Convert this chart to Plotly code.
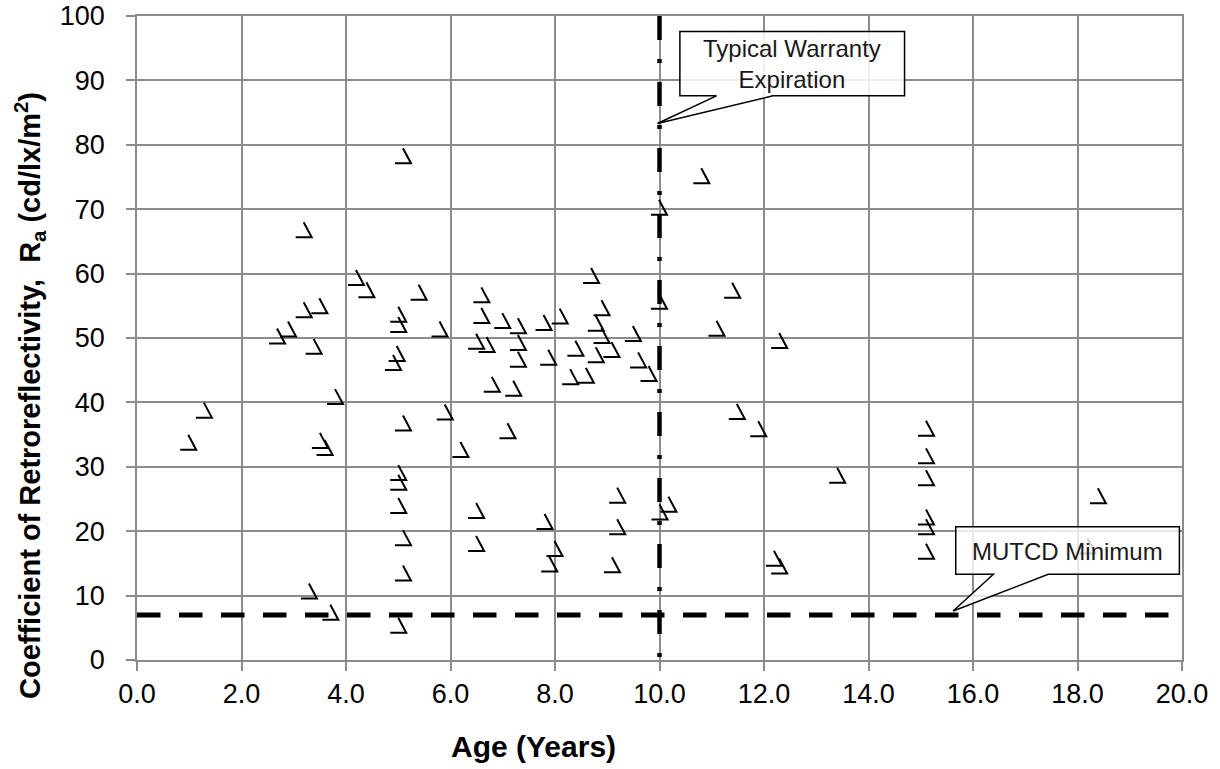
import plotly.graph_objects as go

# ---------------- data ----------------
age_years = [
    0.98, 1.28, 2.68, 2.89, 3.19, 3.19, 3.49, 3.38, 3.29, 3.50, 3.59, 3.70, 3.79,
    4.19, 4.39, 4.90, 4.97, 5.00, 5.00, 5.09, 5.09, 5.00, 5.00, 5.00, 5.09, 5.09,
    5.00, 5.39, 5.79, 5.89, 6.19, 6.49, 6.59, 6.59, 6.69, 6.79, 6.99, 7.09, 7.20,
    7.29, 7.29, 7.29, 7.78, 7.87, 8.09, 8.29, 8.39, 8.59, 8.69, 8.78, 8.89, 8.89,
    8.78, 9.08, 9.49, 9.59, 9.79, 9.99, 9.99, 10.80, 6.49, 6.49, 7.80, 7.99, 7.89,
    9.19, 9.19, 9.09, 10.00, 10.17, 11.39, 11.09, 12.29, 11.48, 11.89, 13.40,
    12.29, 12.19, 15.10, 15.10, 15.10, 15.10, 15.10, 15.10, 18.39, 18.19,
]
ra_values = [
    33.8, 38.8, 50.3, 51.4, 66.8, 54.4, 55.0, 48.7, 10.7, 34.1, 33.0, 7.4, 40.9,
    59.4, 57.5, 46.2, 47.6, 53.7, 52.1, 78.3, 36.8, 29.1, 27.6, 24.0, 19.0, 13.5,
    5.4, 57.1, 51.4, 38.5, 32.7, 49.5, 56.7, 53.5, 49.0, 42.8, 52.7, 35.6, 42.2,
    51.9, 49.3, 46.7, 52.4, 47.0, 53.4, 44.0, 48.4, 44.2, 59.7, 52.3, 54.7, 50.4,
    47.4, 48.2, 50.7, 46.6, 44.5, 55.7, 70.3, 75.2, 23.2, 18.1, 21.5, 17.3, 14.9,
    25.6, 20.7, 14.8, 23.0, 24.2, 57.4, 51.5, 49.6, 38.6, 35.9, 28.7,
    14.6, 15.8, 36.0, 31.7, 28.3, 22.2, 20.7, 16.9, 25.5, 17.7,
]

x_tick_values = [0, 2, 4, 6, 8, 10, 12, 14, 16, 18, 20]
x_tick_labels = ["0.0", "2.0", "4.0", "6.0", "8.0", "10.0", "12.0", "14.0", "16.0", "18.0", "20.0"]
y_tick_values = [0, 10, 20, 30, 40, 50, 60, 70, 80, 90, 100]

mutcd_minimum = 7
warranty_years = 10

# ---------------- layout geometry ----------------
W, H = 1220, 769
ML, MR, MT, MB = 137, 38, 16, 109
X_RANGE = [0, 20]
Y_RANGE = [0, 100]
plot_w = W - ML - MR
plot_h = H - MT - MB
px_per_x = plot_w / (X_RANGE[1] - X_RANGE[0])
px_per_y = plot_h / (Y_RANGE[1] - Y_RANGE[0])

# custom marker glyph: diagonal stroke down-right, then horizontal stroke left (pixel offsets, y down)
glyph_px = [(0, -7.5), (8, 7.5), (-8, 7.5)]
gx, gy = [], []
for a, r in zip(age_years, ra_values):
    for dx, dy in glyph_px:
        gx.append(a + dx / px_per_x)
        gy.append(r - dy / px_per_y)
    gx.append(None)
    gy.append(None)

fig = go.Figure()

fig.add_trace(go.Scatter(
    x=[X_RANGE[0], X_RANGE[1]], y=[mutcd_minimum, mutcd_minimum], mode="lines",
    line=dict(color="black", width=5, dash="23.5px,18.5px"),
    hoverinfo="skip", showlegend=False,
))
fig.add_trace(go.Scatter(
    x=[warranty_years, warranty_years], y=[Y_RANGE[1], Y_RANGE[0]], mode="lines",
    line=dict(color="black", width=4.5, dash="24px,19px,4px,19px"),
    hoverinfo="skip", showlegend=False,
))
fig.add_trace(go.Scatter(
    x=gx, y=gy, mode="lines", connectgaps=False,
    line=dict(color="black", width=2),
    hoverinfo="skip", showlegend=False,
))

grid = "#8c8c8c"
fig.update_layout(
    width=W, height=H,
    margin=dict(l=ML, r=MR, t=MT, b=MB, autoexpand=False),
    paper_bgcolor="white", plot_bgcolor="white",
    font=dict(family="Liberation Sans, Arial, sans-serif", color="black"),
    showlegend=False,
    xaxis=dict(
        range=X_RANGE, tickmode="array", tickvals=x_tick_values, ticktext=x_tick_labels,
        showgrid=True, gridcolor=grid, gridwidth=1.5, zeroline=False,
        showline=True, linecolor=grid, linewidth=1.5, mirror=True,
        ticks="outside", ticklen=9, tickwidth=1.5, tickcolor=grid,
        tickfont=dict(size=27, color="black"), ticklabelstandoff=0,
        ticklabeloverflow="allow", automargin=False,
    ),
    yaxis=dict(
        range=Y_RANGE, tickmode="array", tickvals=y_tick_values,
        showgrid=True, gridcolor=grid, gridwidth=1.5, zeroline=False,
        showline=True, linecolor=grid, linewidth=1.5, mirror=True,
        ticks="outside", ticklen=9, tickwidth=1.5, tickcolor=grid,
        tickfont=dict(size=27, color="black"), ticklabelstandoff=16,
        ticklabeloverflow="allow", automargin=False,
    ),
)

# axis titles (placed as in the reference, slightly off-centre)
fig.add_annotation(xref="paper", yref="paper",
                   x=(533 - ML) / plot_w, y=(660 - 746) / plot_h,
                   xanchor="center", yanchor="middle", showarrow=False,
                   text="<b>Age (Years)</b>", font=dict(size=30, color="black"))
fig.add_annotation(xref="paper", yref="paper",
                   x=(30 - ML) / plot_w, y=(660 - 396) / plot_h,
                   xanchor="center", yanchor="middle", showarrow=False, textangle=-90,
                   text="<b>Coefficient of Retroreflectivity,\u00a0 R<sub>a</sub> (cd/lx/m<sup>2</sup>)</b>",
                   font=dict(size=29, color="black"))

# ---------------- callouts ----------------
def callout_path(x0, x1, y_top, y_bot, bx0, bx1, tipx, tipy):
    return (f"M {x0},{y_top} L {x1},{y_top} L {x1},{y_bot} L {bx1},{y_bot} "
            f"L {tipx},{tipy} L {bx0},{y_bot} L {x0},{y_bot} Z")

fig.add_shape(type="path", xref="x", yref="y", layer="above",
              path=callout_path(10.39, 14.69, 97.6, 87.6, 11.09, 12.17, 9.96, 83.3),
              fillcolor="rgba(255,255,255,0.85)", line=dict(color="black", width=1.5))
fig.add_annotation(x=12.54, y=92.6, xref="x", yref="y", showarrow=False,
                   text="Typical Warranty<br>Expiration",
                   font=dict(size=24, color="#1a1a1a"), align="center")

fig.add_shape(type="path", xref="x", yref="y", layer="above",
              path=callout_path(15.67, 19.95, 20.7, 13.3, 16.39, 17.44, 15.62, 7.6),
              fillcolor="rgba(255,255,255,0.8)", line=dict(color="black", width=1.5))
fig.add_annotation(x=17.8, y=16.9, xref="x", yref="y", showarrow=False,
                   text="MUTCD Minimum",
                   font=dict(size=24, color="#1a1a1a"), align="center")

fig.write_html("out.html", config={"displayModeBar": False},
               post_script="document.body.style.margin='0';")
